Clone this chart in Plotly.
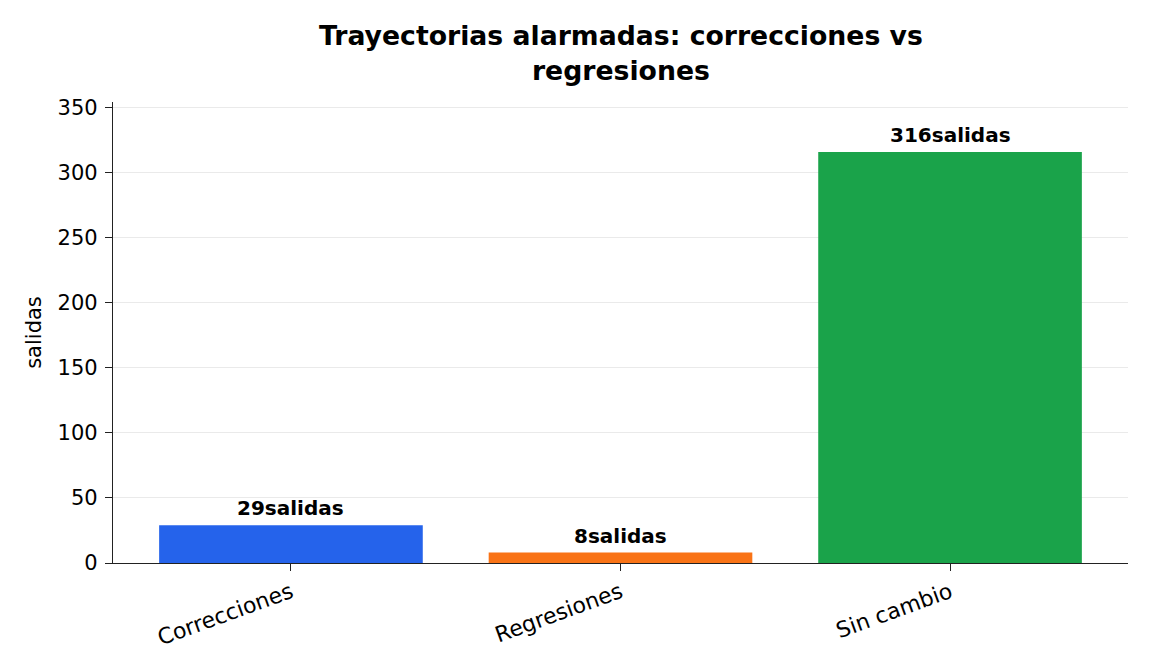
import plotly.graph_objects as go

categories = ["Correcciones", "Regresiones", "Sin cambio"]
values = [29, 8, 316]
colors = ["#2563eb", "#f97316", "#1aa34a"]
labels = [f"{v}salidas" for v in values]

fig = go.Figure()
fig.add_trace(go.Bar(
    x=[0, 1, 2], y=values, width=0.8,
    marker=dict(color=colors, line=dict(width=0)),
    showlegend=False, hoverinfo="skip",
))

for i, (v, t) in enumerate(zip(values, labels)):
    fig.add_annotation(x=i, y=v, text=f"<b>{t}</b>", showarrow=False,
                       yanchor="bottom", yshift=3,
                       font=dict(family="DejaVu Sans", size=20, color="black"))

fig.add_annotation(xref="paper", yref="paper", x=0.5, y=1, yshift=14,
                   xanchor="center", yanchor="bottom", showarrow=False,
                   text="<b>Trayectorias alarmadas: correcciones vs<br>regresiones</b>",
                   font=dict(family="DejaVu Sans", size=26.7, color="black"))

font = dict(family="DejaVu Sans", size=21, color="black")
xfont = dict(family="DejaVu Sans", size=22, color="black")
fig.update_layout(
    width=1152, height=672,
    margin=dict(l=113, r=24, t=102, b=109),
    plot_bgcolor="white", paper_bgcolor="white",
    font=font,
    bargap=0.2,
)
fig.update_xaxes(
    range=[-0.54, 2.54], tickmode="array", tickvals=[0, 1, 2], ticktext=categories,
    tickangle=-20, ticks="outside", ticklen=7, tickwidth=1.3, tickcolor="#222",
    showline=True, linecolor="#222", linewidth=1.3, showgrid=False, zeroline=False,
    tickfont=xfont,
)
fig.update_yaxes(
    range=[0, 354.5], tickmode="array", tickvals=[0, 50, 100, 150, 200, 250, 300, 350],
    ticks="outside", ticklen=7, tickwidth=1.3, tickcolor="#222",
    ticklabelstandoff=3,
    showline=True, linecolor="#222", linewidth=1.3,
    showgrid=True, gridcolor="rgba(190,190,190,0.32)", gridwidth=1.2, zeroline=False,
    layer="above traces",
    title=dict(text="salidas", font=font, standoff=10),
    tickfont=font,
)
fig.write_html("out.html")
